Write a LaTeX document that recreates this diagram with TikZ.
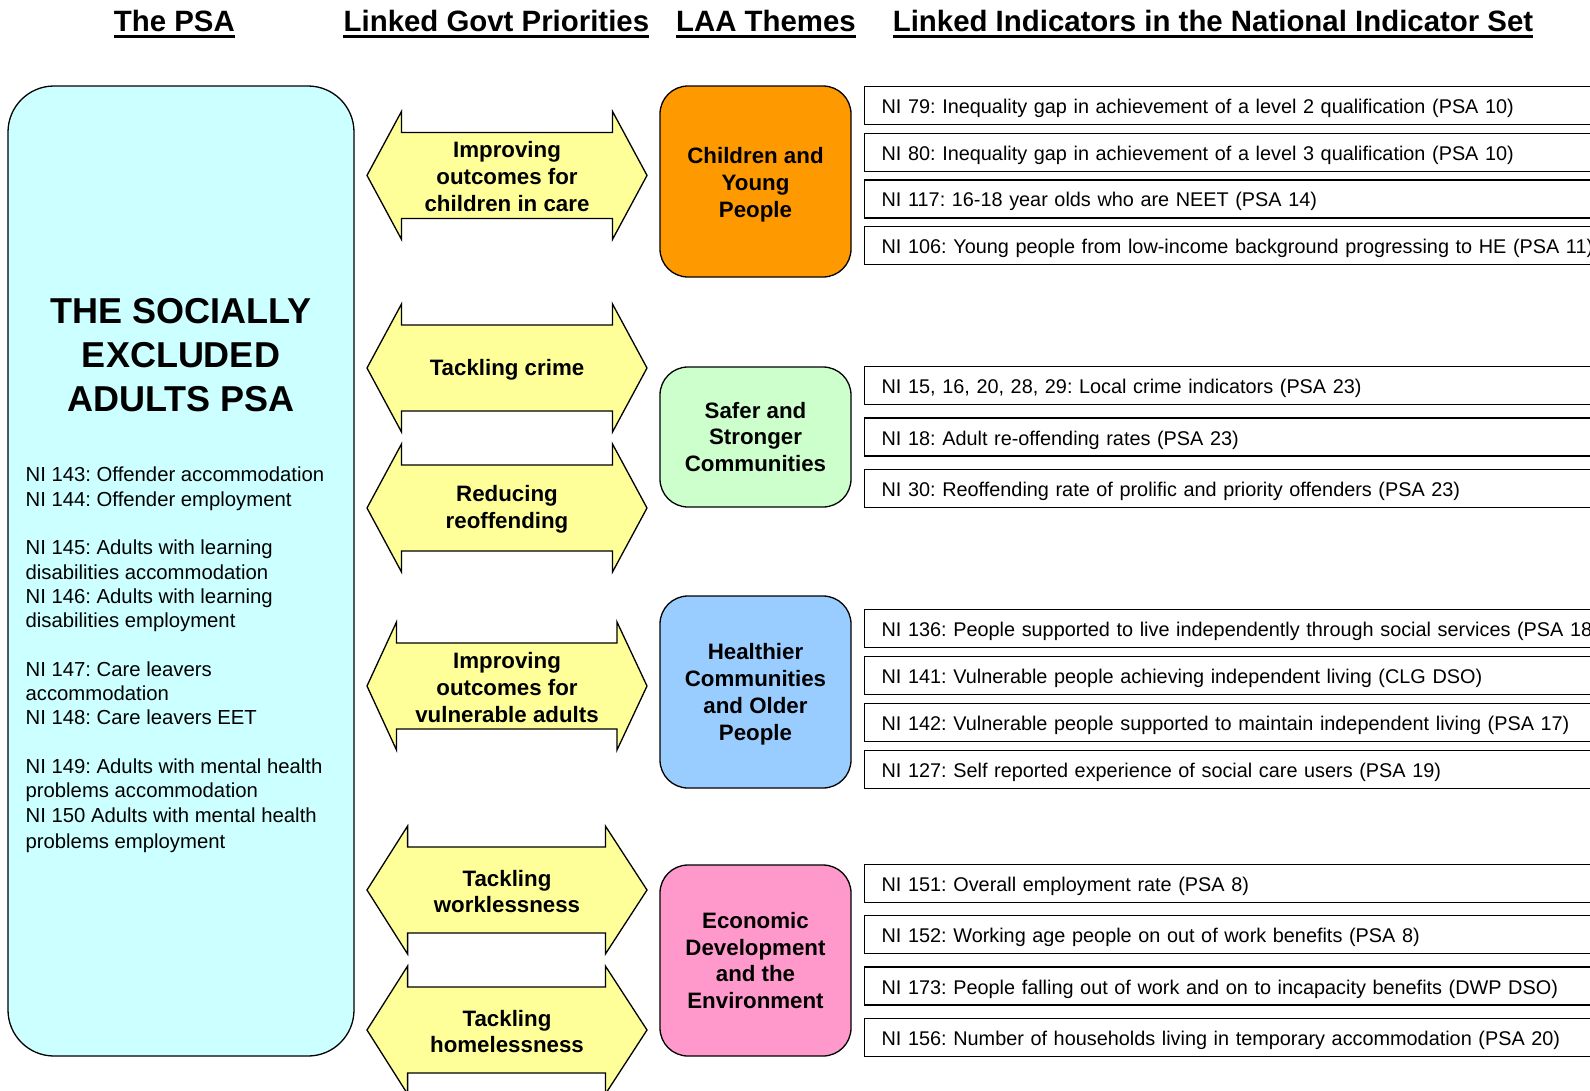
\documentclass[tikz,border=0pt]{standalone}
\usepackage{fontspec}
\setmainfont{Liberation Sans}
\usepackage{tikz}
\usetikzlibrary{positioning}
\frenchspacing
\definecolor{psacyan}{HTML}{CCFFFF}
\definecolor{prioyellow}{HTML}{FFFF99}
\definecolor{cypOrange}{HTML}{FF9900}
\definecolor{sscGreen}{HTML}{CCFFCC}
\definecolor{hcopBlue}{HTML}{99CCFF}
\definecolor{edePink}{HTML}{FF99CC}
\tikzset{
    header/.style={font=\fontsize{29.4}{35}\selectfont\bfseries, inner sep=0pt, anchor=base},
    uline/.style={line width=2.5pt},
    psabox/.style={draw, fill=psacyan, rounded corners=46pt, line width=1.3pt, minimum width=346pt, minimum height=970pt},
    themebox/.style={draw, fill=#1, rounded corners=28pt, line width=1.3pt, minimum width=191pt},
    themetext/.style={align=center, inner sep=0pt, font=\fontsize{22.3}{26.9}\selectfont\bfseries},
    prioarrow/.style={draw, fill=prioyellow, line width=1.3pt, line join=miter},
    priotext/.style={align=center, inner sep=0pt, font=\fontsize{22.3}{26.9}\selectfont\bfseries},
    indbox/.style={draw, line width=1.3pt, anchor=west, minimum height=38pt, text width=1000pt, inner xsep=17pt, inner ysep=0pt,
        text height=16pt, text depth=0pt, align=left, font=\fontsize{19.85}{24}\selectfont}
}
% double headed priority arrow: name, centre y, left neck, right neck, text
\newcommand{\prio}[5]{%
    \path[prioarrow] (367,#2) -- (#3,#2-64) -- (#3,#2-43) -- (#4,#2-43) -- (#4,#2-64) -- (647,#2)
        -- (#4,#2+64) -- (#4,#2+43) -- (#3,#2+43) -- (#3,#2+64) -- cycle;
    \node[priotext] (#1) at (507,#2+1.5) {#5};
}

\begin{document}
\begin{tikzpicture}[x=1pt, y=-1pt, node distance=7.4pt]
    \useasboundingbox (0,0) rectangle (1590,1090);
    \clip (0,0) rectangle (1590,1090);
    % column headers
    \node[header] (hPSA) at (174.4,31.5) {The PSA};
    \node[header] (hPrio) at (496.4,31.5) {Linked Govt Priorities};
    \node[header] (hLAA) at (766,31.5) {LAA Themes};
    \node[header] (hNI) at (1213,31.5) {Linked Indicators in the National Indicator Set};
    \foreach \h in {hPSA,hPrio,hLAA,hNI}
        \draw[uline] ([yshift=-5pt]\h.base west) -- ([yshift=-5pt]\h.base east);

    % the PSA
    \node[psabox] (psa) at (181,571) {};
    \node[anchor=north, inner sep=0pt, align=center, font=\fontsize{36}{43.6}\selectfont\bfseries] (title) at (181,298.5) {THE SOCIALLY\\EXCLUDED\\ADULTS PSA};
    \node[anchor=north west, inner sep=0pt, align=left, font=\fontsize{20.3}{24.3}\selectfont] (psaNI) at (25.4,467) {NI 143: Offender accommodation\\NI 144: Offender employment\\[24.3pt]
        NI 145: Adults with learning\\disabilities accommodation\\NI 146: Adults with learning\\disabilities employment\\[24.3pt]
        NI 147: Care leavers\\accommodation\\NI 148: Care leavers EET\\[24.3pt]
        NI 149: Adults with mental health\\problems accommodation\\NI 150 Adults with mental health\\[2pt]problems employment};

    % priorities
    \prio{pCare}{175.4}{401.5}{612.5}{Improving\\outcomes for\\children in care}
    \prio{pCrime}{368}{401.5}{612.5}{Tackling crime}
    \prio{pReoff}{508}{401.5}{612.5}{Reducing\\reoffending}
    \prio{pVuln}{686}{396.5}{617}{Improving\\outcomes for\\vulnerable adults}
    \prio{pWork}{890}{407.6}{605.4}{Tackling\\worklessness}
    \prio{pHome}{1030}{407.6}{605.4}{Tackling\\homelessness}

    % LAA themes
    \node[themebox=cypOrange, minimum height=191pt] (tCYP) at (755.5,181.5) {};
    \node[themetext] (tCYPtext) at ([yshift=-3pt]tCYP.center) {Children and\\Young\\People};
    \node[themebox=sscGreen, minimum height=140pt] (tSSC) at (755.5,437) {};
    \node[themetext] (tSSCtext) at (tSSC.center) {Safer and\\Stronger\\Communities};
    \node[themebox=hcopBlue, minimum height=192pt] (tHCOP) at (755.5,692) {};
    \node[themetext] (tHCOPtext) at ([yshift=-2pt]tHCOP.center) {Healthier\\Communities\\and Older\\People};
    \node[themebox=edePink, minimum height=191pt] (tEDE) at (755.5,960.5) {};
    \node[themetext] (tEDEtext) at (tEDE.center) {Economic\\Development\\and the\\Environment};

    % indicators
    \node[indbox] (ni79) at (864,105.5) {NI 79: Inequality gap in achievement of a level 2 qualification (PSA 10)};
    \node[indbox, below=of ni79] (ni80) {NI 80: Inequality gap in achievement of a level 3 qualification (PSA 10)};
    \node[indbox, below=of ni80] (ni117) {NI 117: 16-18 year olds who are NEET (PSA 14)};
    \node[indbox, below=of ni117] (ni106) {NI 106: Young people from low-income background progressing to HE (PSA 11)};

    \node[indbox] (ni15) at (864,385.3) {NI 15, 16, 20, 28, 29: Local crime indicators (PSA 23)};
    \node[indbox, below=12.4pt of ni15] (ni18) {NI 18: Adult re-offending rates (PSA 23)};
    \node[indbox, below=12.4pt of ni18] (ni30) {NI 30: Reoffending rate of prolific and priority offenders (PSA 23)};

    \node[indbox] (ni136) at (864,628.7) {NI 136: People supported to live independently through social services (PSA 18)};
    \node[indbox, below=7.6pt of ni136] (ni141) {NI 141: Vulnerable people achieving independent living (CLG DSO)};
    \node[indbox, below=7.6pt of ni141] (ni142) {NI 142: Vulnerable people supported to maintain independent living (PSA 17)};
    \node[indbox, below=7.6pt of ni142] (ni127) {NI 127: Self reported experience of social care users (PSA 19)};

    \node[indbox] (ni151) at (864,883.2) {NI 151: Overall employment rate (PSA 8)};
    \node[indbox, below=12.1pt of ni151] (ni152) {NI 152: Working age people on out of work benefits (PSA 8)};
    \node[indbox, below=12.1pt of ni152] (ni173) {NI 173: People falling out of work and on to incapacity benefits (DWP DSO)};
    \node[indbox, below=12.1pt of ni173] (ni156) {NI 156: Number of households living in temporary accommodation (PSA 20)};
\end{tikzpicture}
\end{document}
